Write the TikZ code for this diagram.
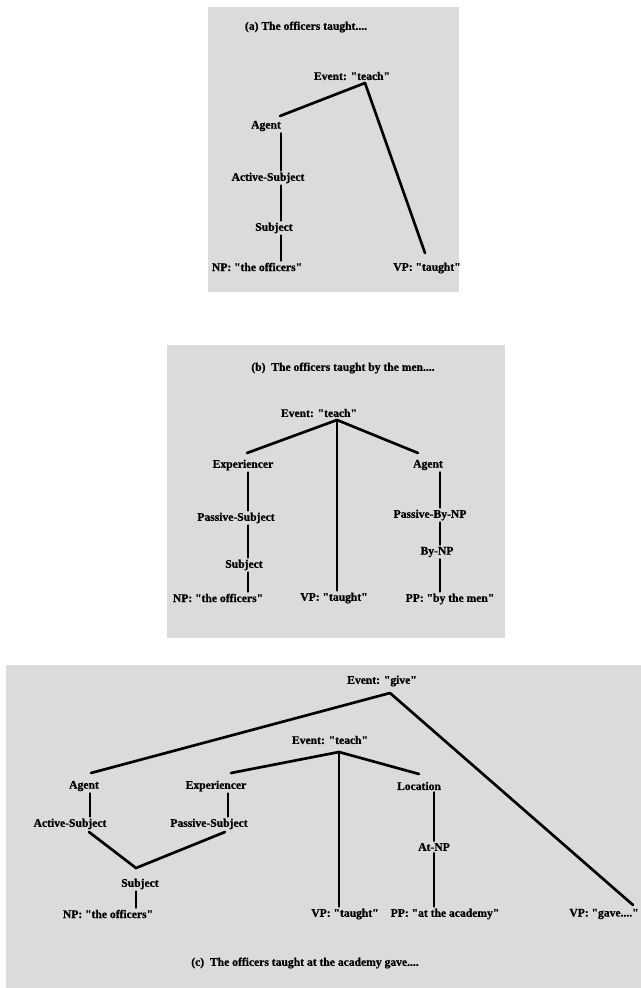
\documentclass[tikz,border=0pt]{standalone}
\usepackage{fontspec}
\newfontfamily\lblfont{Liberation Serif}[BoldFeatures={FakeBold=0.8}]
\definecolor{panelgrey}{RGB}{219,219,219}
\begin{document}
\begin{tikzpicture}[x=0.75pt,y=-0.75pt,
  lbl/.style={font=\lblfont\bfseries\fontsize{8.7}{10}\selectfont, inner sep=1.5pt},
  edge/.style={line width=2pt, line cap=round},
  panel/.style={fill=panelgrey, draw=none}]
\useasboundingbox (0,0) rectangle (641,988);
\fill[white] (0,0) rectangle (641,988);
% ---------- panel (a)
\fill[panel] (208,7) rectangle (459,292);
\node[lbl] (tA) at (306,27) {(a) The officers taught....};
\node[lbl] (evA) at (352,76) {Event: "teach"};
\node[lbl] (agA) at (266,126) {Agent};
\node[lbl] (asA) at (268,178) {Active-Subject};
\node[lbl] (sbA) at (274,228) {Subject};
\node[lbl] (npA) at (257,267) {NP: "the officers"};
\node[lbl] (vpA) at (427,268) {VP: "taught"};
\coordinate (jA) at (365,83);
\coordinate (xA) at (281,0);
\coordinate (eAa) at (280,116);
\coordinate (eAv) at (425,253);
\draw[edge] (jA) -- (eAa);
\draw[edge] (jA) -- (eAv);
\draw[edge] (agA.south -| xA) -- (asA.north -| xA);
\draw[edge] (asA.south -| xA) -- (sbA.north -| xA);
\draw[edge] (sbA.south -| xA) -- (npA.north -| xA);
% ---------- panel (b)
\fill[panel] (167,345) rectangle (505,638);
\node[lbl] (tB) at (343,368) {(b)\ \ The officers taught by the men....};
\node[lbl] (evB) at (319,413) {Event: "teach"};
\node[lbl] (exB) at (243,465) {Experiencer};
\node[lbl] (psB) at (236,518) {Passive-Subject};
\node[lbl] (sbB) at (244,565) {Subject};
\node[lbl] (npB) at (218,598) {NP: "the officers"};
\node[lbl] (vpB) at (334,598) {VP: "taught"};
\node[lbl] (agB) at (428,465) {Agent};
\node[lbl] (pbB) at (430,515) {Passive-By-NP};
\node[lbl] (bnB) at (437,552) {By-NP};
\node[lbl] (ppB) at (450,599) {PP: "by the men"};
\coordinate (jB) at (337,420);
\coordinate (xB) at (248,0);
\coordinate (xB2) at (440,0);
\coordinate (eBx) at (247,453);
\coordinate (eBa) at (418,453);
\draw[edge] (jB) -- (eBx);
\draw[edge] (jB) -- (eBa);
\draw[edge] (jB) -- (vpB.north -| jB);
\draw[edge] (exB.south -| xB) -- (psB.north -| xB);
\draw[edge] (psB.south -| xB) -- (sbB.north -| xB);
\draw[edge] (sbB.south -| xB) -- (npB.north -| xB);
\draw[edge] (agB.south -| xB2) -- (pbB.north -| xB2);
\draw[edge] (pbB.south -| xB2) -- (bnB.north -| xB2);
\draw[edge] (bnB.south -| xB2) -- (ppB.north -| xB2);
% ---------- panel (c)
\fill[panel] (6,665) rectangle (641,988);
\node[lbl] (evgC) at (382,681) {Event: "give"};
\node[lbl] (evtC) at (330,740) {Event: "teach"};
\node[lbl] (agC) at (84,786) {Agent};
\node[lbl] (exC) at (216,786) {Experiencer};
\node[lbl] (loC) at (419,786) {Location};
\node[lbl] (asC) at (70,824) {Active-Subject};
\node[lbl] (psC) at (209,824) {Passive-Subject};
\node[lbl] (sbC) at (140,884) {Subject};
\node[lbl] (atC) at (434,847) {At-NP};
\node[lbl] (npC) at (108,914) {NP: "the officers"};
\node[lbl] (vptC) at (345,914) {VP: "taught"};
\node[lbl] (ppC) at (445,914) {PP: "at the academy"};
\node[lbl] (vpgC) at (604,914) {VP: "gave...."};
\node[lbl] (tC) at (305,963) {(c)\ \ The officers taught at the academy gave....};
\coordinate (jg) at (390,693);
\coordinate (jt) at (339,752);
\coordinate (js) at (136,868);
\coordinate (eCag) at (91,773);
\coordinate (eCex) at (231,773);
\coordinate (eClo) at (419,774);
\coordinate (eCvg) at (633,905);
\coordinate (eCas) at (89,832);
\coordinate (eCps) at (225,832);
\coordinate (xC1) at (90,0);
\coordinate (xC2) at (228,0);
\coordinate (xC3) at (434,0);
\coordinate (xC4) at (136,0);
\draw[edge] (jg) -- (eCag);
\draw[edge] (jg) -- (eCvg);
\draw[edge] (jt) -- (eCex);
\draw[edge] (jt) -- (eClo);
\draw[edge] (jt) -- (vptC.north -| jt);
\draw[edge] (agC.south -| xC1) -- (asC.north -| xC1);
\draw[edge] (exC.south -| xC2) -- (psC.north -| xC2);
\draw[edge] (eCas) -- (js) -- (eCps);
\draw[edge] (sbC.south -| xC4) -- (npC.north -| xC4);
\draw[edge] (loC.south -| xC3) -- (atC.north -| xC3);
\draw[edge] (atC.south -| xC3) -- (ppC.north -| xC3);
\end{tikzpicture}
\end{document}
